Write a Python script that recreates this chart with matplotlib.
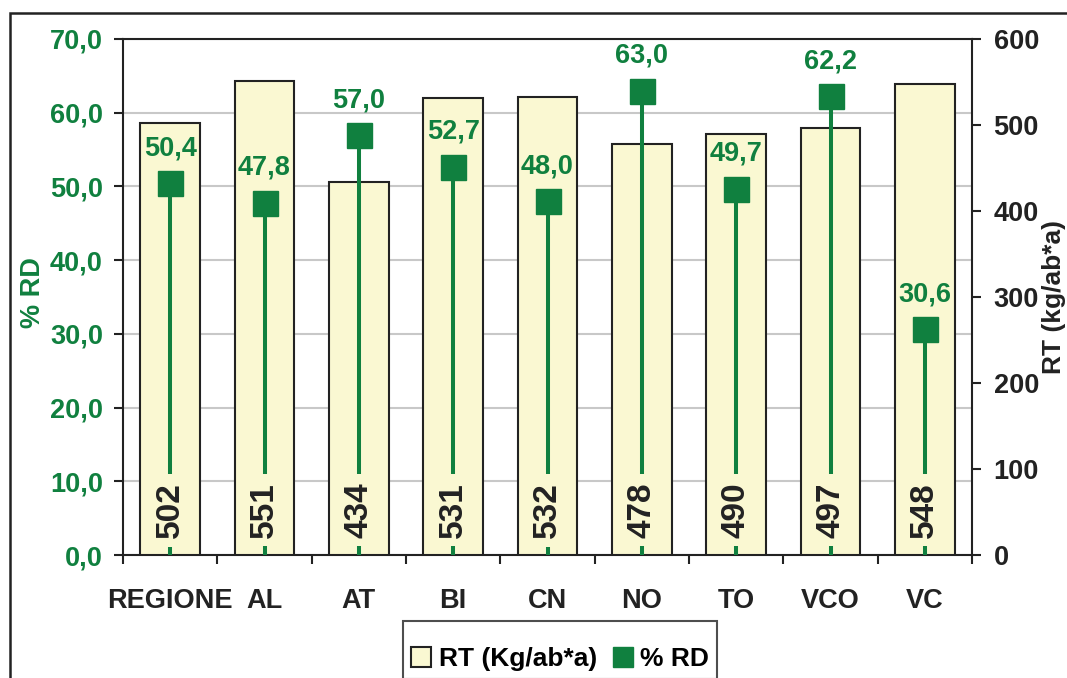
import matplotlib.pyplot as plt
from matplotlib.patches import Rectangle, Patch
from matplotlib.lines import Line2D
from matplotlib.ticker import FuncFormatter, MultipleLocator

# dati
province = ["REGIONE", "AL", "AT", "BI", "CN", "NO", "TO", "VCO", "VC"]
rt = [502, 551, 434, 531, 532, 478, 490, 497, 548]
rd = [50.4, 47.8, 57.0, 52.7, 48.0, 63.0, 49.7, 62.2, 30.6]

VERDE = "#10803F"
GIALLO = "#FAF8D2"
NERO = "#222222"
plt.rcParams["font.family"] = ["Liberation Sans", "DejaVu Sans"]
plt.rcParams["font.weight"] = "bold"

fig = plt.figure(figsize=(10.67, 6.78), dpi=100)
ax = fig.add_axes([0.1153, 0.1814, 0.7957, 0.7611])
ax_bar = ax.twinx()
ax_pt = ax.twinx()

x = list(range(len(province)))

# asse sinistro % RD con griglia
ax.set_ylim(0, 70)
ax.set_xlim(-0.5, len(province) - 0.5)
ax.yaxis.set_major_locator(MultipleLocator(10))
ax.yaxis.set_major_formatter(FuncFormatter(lambda v, p: f"{v:.1f}".replace(".", ",")))
ax.grid(axis="y", color="#C8C8C8", linewidth=1.5)
ax.set_axisbelow(True)
ax.tick_params(axis="y", labelcolor=VERDE, color=NERO, labelsize=19.5,
               length=6.5, width=1.5, pad=8, direction="out")
for s in ax.spines.values():
    s.set_linewidth(1.5)
    s.set_color(NERO)

ax.set_xticks(x)
ax.set_xticklabels(province)
ax.set_xticks([i - 0.5 for i in range(len(province) + 1)], minor=True)
ax.tick_params(axis="x", which="major", length=0, labelsize=19.5, pad=24, labelcolor=NERO)
ax.tick_params(axis="x", which="minor", length=6.5, width=1.5, color=NERO, direction="out")

# barre RT
ax_bar.bar(x, rt, width=0.63, color=GIALLO, edgecolor=NERO, linewidth=1.5)
ax_bar.set_ylim(0, 600)
ax_bar.yaxis.set_major_locator(MultipleLocator(100))
ax_bar.tick_params(axis="y", labelsize=19.5, length=6.5, width=1.5, pad=9,
                   color=NERO, labelcolor=NERO)
for s in ax_bar.spines.values():
    s.set_visible(False)

# % RD
ax_pt.set_ylim(0, 70)
ax_pt.set_yticks([])
for s in ax_pt.spines.values():
    s.set_visible(False)
ax_pt.vlines(x, 0, rd, color=VERDE, linewidth=2.9)
ax_pt.plot(x, rd, linestyle="none", marker="s", markersize=18, color=VERDE)
for xi, v in zip(x, rd):
    ax_pt.annotate(f"{v:.1f}".replace(".", ","), (xi, v), xytext=(0, 25),
                   textcoords="offset points", ha="center", va="center",
                   color=VERDE, fontsize=19.5, fontweight="bold")
for xi, v in zip(x, rt):
    ax_pt.text(xi, 52, str(v), transform=ax_bar.transData, rotation=90,
               ha="center", va="center", fontsize=24, fontweight="bold", color=NERO,
               bbox=dict(boxstyle="square,pad=0.25", facecolor=GIALLO, edgecolor="none"))

fig.text(33 / 1067, 1 - 293 / 678, "% RD", rotation=90, ha="center", va="center",
         color=VERDE, fontsize=19.5, fontweight="bold")
fig.text(1066 / 1067, 1 - 297 / 678, "RT (kg/ab*a)", rotation=90, ha="right", va="center",
         color=NERO, fontsize=19, fontweight="bold")

handles = [Patch(facecolor=GIALLO, edgecolor=NERO, linewidth=1.5),
           Line2D([], [], linestyle="none", marker="s", markersize=15, color=VERDE)]
leg = fig.legend(handles, ["RT (Kg/ab*a)", "% RD"], loc="upper center",
                 bbox_to_anchor=(560 / 1067, 1 - 621 / 678), borderaxespad=0,
                 ncol=2, fontsize=19, frameon=True, fancybox=False,
                 handlelength=0.75, handleheight=0.75, handletextpad=0.3,
                 columnspacing=0.6, borderpad=0.3, title=" ", title_fontsize=4)
leg.get_frame().set_edgecolor(NERO)
leg.get_frame().set_linewidth(1.5)

# cornice esterna
fig.patches.append(Rectangle((10 / 1067, -0.2), 1.2, 1.181, transform=fig.transFigure,
                             fill=False, edgecolor=NERO, linewidth=1.8))

fig.savefig("out.png", dpi=100)
